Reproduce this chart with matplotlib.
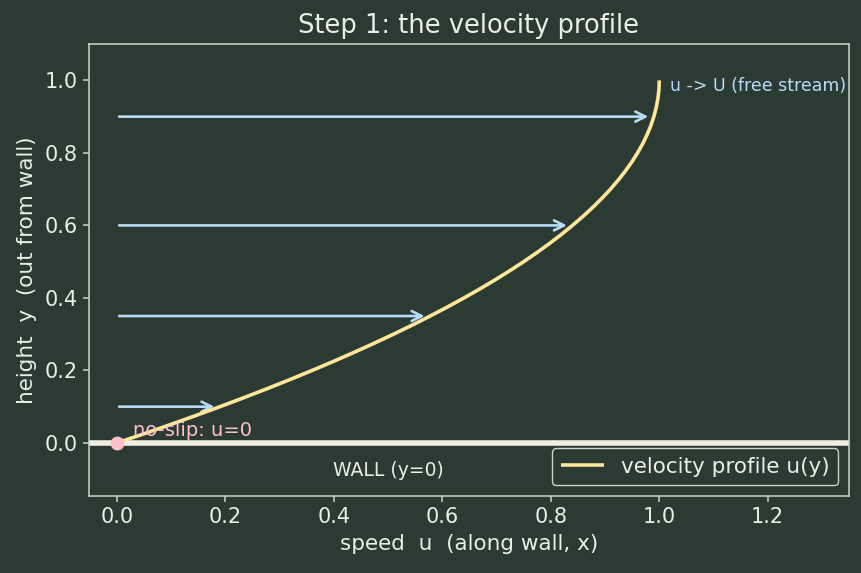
import matplotlib
matplotlib.use("Agg")
import matplotlib.pyplot as plt

# profile (height y, speed u)
y_vals = [0.0, 0.025, 0.05, 0.075, 0.10, 0.125, 0.15, 0.175, 0.20, 0.225, 0.25,
          0.275, 0.30, 0.325, 0.35, 0.375, 0.40, 0.425, 0.45, 0.475, 0.50,
          0.525, 0.55, 0.575, 0.60, 0.625, 0.65, 0.675, 0.70, 0.725, 0.75,
          0.775, 0.80, 0.825, 0.85, 0.875, 0.90, 0.925, 0.95, 0.975, 1.0]
u_vals = [0.0, 0.0494, 0.0975, 0.1444, 0.19, 0.2344, 0.2775, 0.3194, 0.36, 0.3994, 0.4375,
          0.4744, 0.51, 0.5444, 0.5775, 0.6094, 0.64, 0.6694, 0.6975, 0.7244, 0.75,
          0.7744, 0.7975, 0.8194, 0.84, 0.8594, 0.8775, 0.8944, 0.91, 0.9244, 0.9375,
          0.9494, 0.96, 0.9694, 0.9775, 0.9844, 0.99, 0.9944, 0.9975, 0.9994, 1.0]

arrow_y = [0.10, 0.35, 0.60, 0.90]
arrow_u = [0.19, 0.5775, 0.84, 0.99]

BG = "#2b3a33"
FG = "#e8efe9"
SPINE = "#c9d6cc"
CURVE = "#ffe699"
ARROW = "#b8dcf8"
PINK = "#ffc0cb"
WALL = "#f2eee6"

fig, ax = plt.subplots(figsize=(8.62, 5.73), dpi=100)
fig.patch.set_facecolor(BG)
ax.set_facecolor(BG)

ax.axhline(0, color=WALL, lw=4, zorder=2)

for yy, uu in zip(arrow_y, arrow_u):
    ax.annotate("", xy=(uu, yy), xytext=(0, yy),
                arrowprops=dict(arrowstyle="->", color=ARROW, lw=1.9,
                                shrinkA=1.5, shrinkB=4, mutation_scale=18),
                zorder=3)

ax.plot(u_vals, y_vals, color=CURVE, lw=2.6, label="velocity profile u(y)", zorder=4,
        solid_capstyle="butt")
ax.plot([0], [0], "o", color=PINK, ms=9, zorder=5)

ax.text(0.03, 0.02, "no-slip: u=0", color=PINK, fontsize=14, zorder=6)
ax.text(0.5, -0.075, "WALL (y=0)", color=FG, fontsize=13.5, ha="center", va="center")
ax.text(1.02, 0.985, "u -> U (free stream)", color=ARROW, fontsize=12.5, va="center")

ax.set_xlim(-0.052, 1.35)
ax.set_ylim(-0.147, 1.1)
ax.set_title("Step 1: the velocity profile", color=FG, fontsize=18.5, pad=8)
ax.set_xlabel("speed  u  (along wall, x)", color=FG, fontsize=15.5, labelpad=5)
ax.set_ylabel("height  y  (out from wall)", color=FG, fontsize=15.5, labelpad=5)
ax.tick_params(colors=SPINE, labelcolor=FG, labelsize=15, length=4.5, width=1.1)
for s in ax.spines.values():
    s.set_color(SPINE)
    s.set_linewidth(1.1)

leg = ax.legend(loc="lower right", fontsize=15.5, facecolor=BG, edgecolor=SPINE,
                framealpha=1, handlelength=2.0)
for t in leg.get_texts():
    t.set_color(FG)

fig.subplots_adjust(left=0.103, right=0.985, top=0.923, bottom=0.134)
fig.savefig("out.png", dpi=100, facecolor=BG)
